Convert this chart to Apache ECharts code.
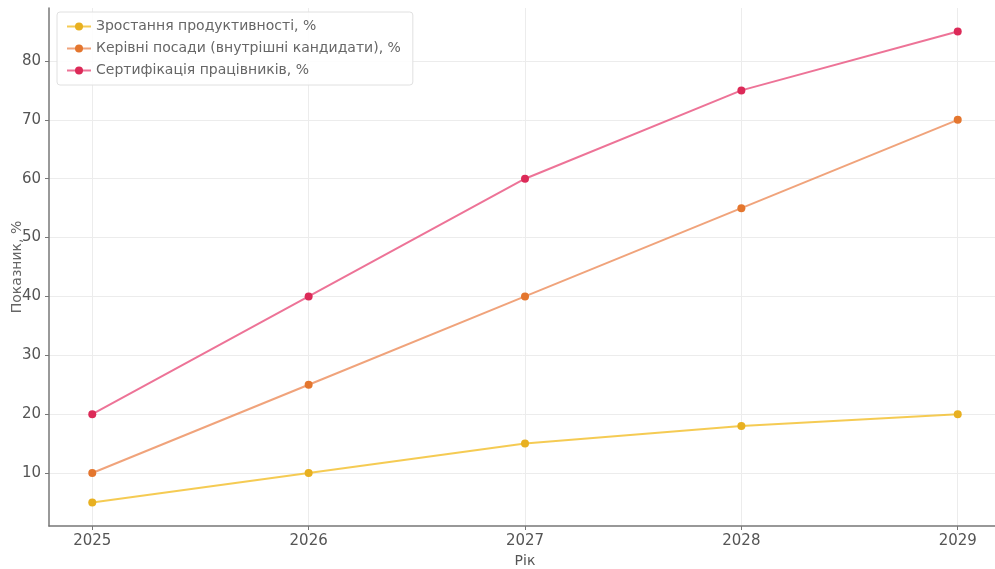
<!DOCTYPE html>
<html><head><meta charset="utf-8">
<script src="https://cdn.jsdelivr.net/npm/echarts@6/dist/echarts.min.js"></script>
<style>html,body{margin:0;padding:0;background:#fff}#c{width:995px;height:569px}</style>
</head><body><div id="c"></div>
<script>
const years = [2025, 2026, 2027, 2028, 2029];
const yTicks = [10, 20, 30, 40, 50, 60, 70, 80];
const seriesNames = ['Зростання продуктивності, %', 'Керівні посади (внутрішні кандидати), %', 'Сертифікація працівників, %'];
const productivity = [5, 10, 15, 18, 20];
const leadership = [10, 25, 40, 55, 70];
const certification = [20, 40, 60, 75, 85];
const lineColors = ['rgba(242,190,40,0.8)', 'rgba(236,140,90,0.8)', 'rgba(232,80,125,0.8)'];
const markColors = ['#e8b020', '#e4762e', '#dc2a58'];
const values = [productivity, leadership, certification];

const chart = echarts.init(document.getElementById('c'));
chart.setOption({
  animation: false,
  grid: { left: 49, top: 8, width: 952, bottom: 43, containLabel: false, outerBoundsMode: 'none' },
  legend: {
    left: 57, top: 12, orient: 'vertical', itemGap: 5, itemWidth: 24, itemHeight: 10,
    padding: [6, 12, 6, 9],
    backgroundColor: 'rgba(255,255,255,0.9)', borderColor: '#e0e0e0', borderWidth: 1, borderRadius: 3,
    textStyle: { fontFamily: 'DejaVu Sans', fontSize: 14, color: '#666', lineHeight: 17 },
    data: seriesNames.map((n, i) => ({ name: n, itemStyle: { color: markColors[i] } }))
  },
  xAxis: {
    type: 'value', min: 2024.8, max: 2029.2,
    name: 'Рік', nameLocation: 'middle', nameGap: 28,
    nameTextStyle: { fontFamily: 'DejaVu Sans', fontSize: 14, color: '#555' },
    axisLine: { lineStyle: { color: '#777', width: 1.5 } },
    axisTick: { customValues: years, length: 4, lineStyle: { color: '#777' } },
    axisLabel: { customValues: years, fontFamily: 'DejaVu Sans', fontSize: 15, color: '#555', margin: 8, formatter: v => String(v) },
    splitLine: { show: true, lineStyle: { color: '#ececec', width: 1 } }
  },
  yAxis: {
    type: 'value', min: 1, max: 89,
    name: 'Показник, %', nameLocation: 'middle', nameGap: 32, nameRotate: 90, nameMoveOverlap: false,
    nameTextStyle: { fontFamily: 'DejaVu Sans', fontSize: 14, color: '#666', verticalAlign: 'middle' },
    axisLine: { show: true, lineStyle: { color: '#777', width: 1.5 } },
    axisTick: { show: true, customValues: yTicks, length: 4, lineStyle: { color: '#777' } },
    axisLabel: { customValues: yTicks, fontFamily: 'DejaVu Sans', fontSize: 15, color: '#555', margin: 8 },
    splitLine: { show: true, lineStyle: { color: '#ececec', width: 1 } }
  },
  series: seriesNames.map((n, i) => ({
    name: n, type: 'line',
    data: years.map((y, j) => [y, values[i][j]]),
    symbol: 'circle', symbolSize: 8,
    lineStyle: { color: lineColors[i], width: 2 },
    itemStyle: { color: markColors[i] }
  }))
});
</script></body></html>
